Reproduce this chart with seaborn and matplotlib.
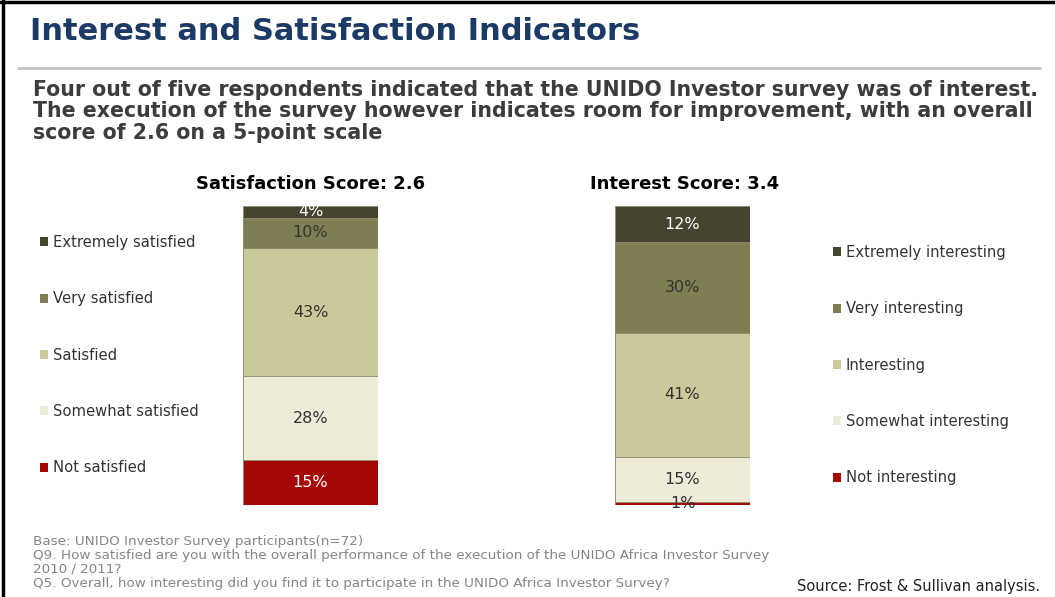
import pandas as pd
import seaborn as sns
from matplotlib import pyplot as plt
from matplotlib.patches import Patch
from matplotlib.lines import Line2D

sns.set_theme(style='white')
plt.rcParams['font.family'] = ['DejaVu Sans']

# data (bottom -> top)
sat_levels = ['Not satisfied', 'Somewhat satisfied', 'Satisfied', 'Very satisfied', 'Extremely satisfied']
sat_values = [15, 28, 43, 10, 4]
int_levels = ['Not interesting', 'Somewhat interesting', 'Interesting', 'Very interesting', 'Extremely interesting']
int_values = [1, 15, 41, 30, 12]

level_colors = ['#a60808', '#eeecd8', '#cbc999', '#7e7e52', '#46432e']
sat_text_colors = ['white', '#333333', '#333333', '#333333', 'white']
int_text_colors = ['#333333', '#333333', '#333333', '#333333', 'white']

W, H = 1055, 597
fig = plt.figure(figsize=(W / 100, H / 100), dpi=100)


def fx(px):
    return px / W


def fy(py):
    return 1 - py / H


def stacked_bar(ax, name, levels, values, text_colors):
    df = pd.DataFrame({'level': levels, 'value': values})
    df['top'] = df['value'].cumsum()
    # draw the cumulative bars from the tallest down so each segment shows
    for i in reversed(range(len(df))):
        sns.barplot(x=[name], y=[df['top'][i]], color=level_colors[i], saturation=1,
                    width=1, edgecolor='#8c8b70', linewidth=0.6, ax=ax)
    for i, row in df.iterrows():
        ax.text(0, row['top'] - row['value'] / 2, f"{row['value']}%", ha='center', va='center',
                fontsize=11.5, color=text_colors[i])
    ax.set_xlim(-0.5, 0.5)
    ax.set_ylim(0, df['top'].iloc[-1])
    ax.axis('off')


ax1 = fig.add_axes([fx(243), fy(505), fx(135), 299 / H])
stacked_bar(ax1, 'Satisfaction', sat_levels, sat_values, sat_text_colors)
ax2 = fig.add_axes([fx(615), fy(505), fx(135), 299 / H])
stacked_bar(ax2, 'Interest', int_levels, int_values, int_text_colors)


# legends (top entry = highest level)
def legend_at(levels, x, y):
    handles = [Patch(facecolor=c, edgecolor='none') for c in level_colors][::-1]
    fig.legend(handles, levels[::-1], loc='upper left', bbox_to_anchor=(fx(x), fy(y)),
               frameon=False, fontsize=10.6, handlelength=0.55, handleheight=0.55,
               handletextpad=0.3, labelspacing=2.81, borderpad=0, borderaxespad=0,
               labelcolor='#333333')


legend_at(sat_levels, 40, 235)
legend_at(int_levels, 833, 245)

# headings over each bar
fig.text(fx(311), fy(184), 'Satisfaction Score: 2.6', ha='center', va='center',
         fontsize=13, fontweight='bold', color='black')
fig.text(fx(685), fy(184), 'Interest Score: 3.4', ha='center', va='center',
         fontsize=13, fontweight='bold', color='black')

# title block
fig.text(fx(30), fy(31), 'Interest and Satisfaction Indicators', ha='left', va='center',
         fontsize=22, fontweight='bold', color='#1b3a66')
sub = ['Four out of five respondents indicated that the UNIDO Investor survey was of interest.',
       'The execution of the survey however indicates room for improvement, with an overall',
       'score of 2.6 on a 5-point scale']
for i, line in enumerate(sub):
    fig.text(fx(33), fy(90 + 21.5 * i), line, ha='left', va='center', fontsize=14.8,
             fontweight='bold', color='#3c3c3c')

notes = ['Base: UNIDO Investor Survey participants(n=72)',
         'Q9. How satisfied are you with the overall performance of the execution of the UNIDO Africa Investor Survey',
         '2010 / 2011?',
         'Q5. Overall, how interesting did you find it to participate in the UNIDO Africa Investor Survey?']
for i, line in enumerate(notes):
    fig.text(fx(33), fy(541 + 14 * i), line, ha='left', va='center', fontsize=9.7,
             color='#858585')
fig.text(fx(797), fy(586), 'Source: Frost & Sullivan analysis.', ha='left', va='center',
         fontsize=10.5, color='#222222')

# frame and separator
fig.add_artist(Line2D([fx(18), fx(1040)], [fy(68), fy(68)], color='#c4c4c4', lw=2))
fig.add_artist(Line2D([0, 1], [fy(1.5), fy(1.5)], color='black', lw=2.5))
fig.add_artist(Line2D([fx(3), fx(3)], [0, 1], color='black', lw=2.5))

fig.savefig('out.png', dpi=100)
